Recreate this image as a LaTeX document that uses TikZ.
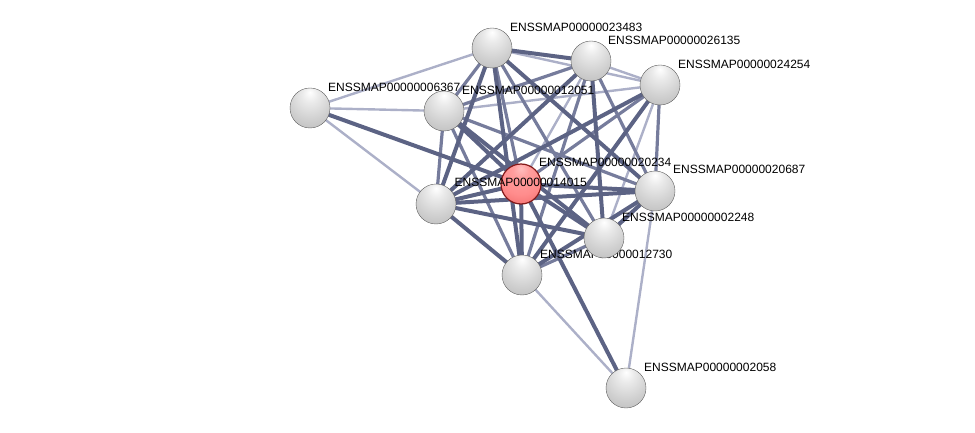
\documentclass[tikz,border=0pt]{standalone}
\usepackage{fontspec}
\setmainfont{Liberation Sans}
\pgfdeclareradialshading{greysphere}{\pgfpoint{0bp}{20bp}}{color(0bp)=(white); color(10bp)=(white!92!black); color(26bp)=(white!82!black); color(40bp)=(white!74!black); color(54bp)=(white!58!black); color(70bp)=(white!40!black)}
\pgfdeclareradialshading{redsphere}{\pgfpoint{0bp}{20bp}}{color(0bp)=(white!75!red); color(10bp)=(white!62!red); color(26bp)=(white!55!red); color(40bp)=(white!45!red!95!black); color(54bp)=(red!70!black); color(70bp)=(red!45!black)}
\begin{document}
\begin{tikzpicture}[x=1pt,y=-1pt,
  prot/.style={circle,minimum size=40pt,inner sep=0pt,shading=greysphere,draw=gray!75!black,line width=0.4pt},
  query/.style={circle,minimum size=40pt,inner sep=0pt,shading=redsphere,draw={rgb,255:red,130;green,25;blue,25},line width=1.2pt},
  lab/.style={anchor=base west,inner sep=0pt,font=\fontsize{12}{14}\selectfont},
  ethick/.style={line width=4pt,draw={rgb,255:red,92;green,99;blue,132}},
  emed/.style={line width=3.2pt,draw={rgb,255:red,118;green,124;blue,156}},
  elight/.style={line width=2.4pt,draw={rgb,255:red,172;green,176;blue,200}}]
\useasboundingbox (0,0) rectangle (975,433);
% coordinates of nodes
\coordinate (A) at (492,48);
\coordinate (B) at (591,61);
\coordinate (C) at (660,85);
\coordinate (D) at (310,108);
\coordinate (E) at (444,111);
\coordinate (F) at (521,184);
\coordinate (G) at (436,204);
\coordinate (H) at (655,191);
\coordinate (I) at (604,238);
\coordinate (J) at (522,275);
\coordinate (K) at (626,388);
% edges
\draw[elight] (A) -- (C);
\draw[elight] (A) -- (D);
\draw[elight] (B) -- (C);
\draw[elight] (B) -- (F);
\draw[elight] (C) -- (E);
\draw[elight] (C) -- (I);
\draw[elight] (D) -- (E);
\draw[elight] (D) -- (G);
\draw[elight] (J) -- (K);
\draw[elight] (H) -- (K);
\draw[emed] (A) -- (E);
\draw[emed] (A) -- (F);
\draw[emed] (A) -- (I);
\draw[emed] (B) -- (E);
\draw[emed] (B) -- (J);
\draw[emed] (B) -- (H);
\draw[emed] (C) -- (F);
\draw[emed] (C) -- (H);
\draw[emed] (E) -- (G);
\draw[emed] (E) -- (J);
\draw[emed] (E) -- (H);
\draw[emed] (I) -- (J);
\draw[ethick] (A) -- (B);
\draw[ethick] (A) -- (G);
\draw[ethick] (A) -- (J);
\draw[ethick] (A) -- (H);
\draw[ethick] (B) -- (G);
\draw[ethick] (B) -- (I);
\draw[ethick] (C) -- (G);
\draw[ethick] (C) -- (J);
\draw[ethick] (D) -- (F);
\draw[ethick] (E) -- (F);
\draw[ethick] (E) -- (I);
\draw[ethick] (F) -- (G);
\draw[ethick] (F) -- (H);
\draw[ethick] (F) -- (I);
\draw[ethick] (F) -- (J);
\draw[ethick] (F) -- (K);
\draw[ethick] (G) -- (H);
\draw[ethick] (G) -- (I);
\draw[ethick] (G) -- (J);
\draw[ethick] (H) -- (I);
\draw[ethick] (H) -- (J);
% nodes and labels
\node[prot] (nD) at (D) {};
\node[lab] (lD) at (328,91.5) {ENSSMAP00000006367};
\node[prot] (nA) at (A) {};
\node[lab] (lA) at (510,32) {ENSSMAP00000023483};
\node[prot] (nB) at (B) {};
\node[lab] (lB) at (608,44.5) {ENSSMAP00000026135};
\node[prot] (nC) at (C) {};
\node[lab] (lC) at (678,68.5) {ENSSMAP00000024254};
\node[prot] (nE) at (E) {};
\node[lab] (lE) at (462,94.5) {ENSSMAP00000012051};
\node[query] (nF) at (F) {};
\node[lab] (lF) at (539,167) {ENSSMAP00000020234};
\node[prot] (nG) at (G) {};
\node[lab] (lG) at (454.5,186) {ENSSMAP00000014015};
\node[prot] (nH) at (H) {};
\node[lab] (lH) at (673,174) {ENSSMAP00000020687};
\node[prot] (nJ) at (J) {};
\node[lab] (lJ) at (540,258) {ENSSMAP00000012730};
\node[prot] (nI) at (I) {};
\node[lab] (lI) at (622,221) {ENSSMAP00000002248};
\node[prot] (nK) at (K) {};
\node[lab] (lK) at (644,371) {ENSSMAP00000002058};
\end{tikzpicture}
\end{document}
